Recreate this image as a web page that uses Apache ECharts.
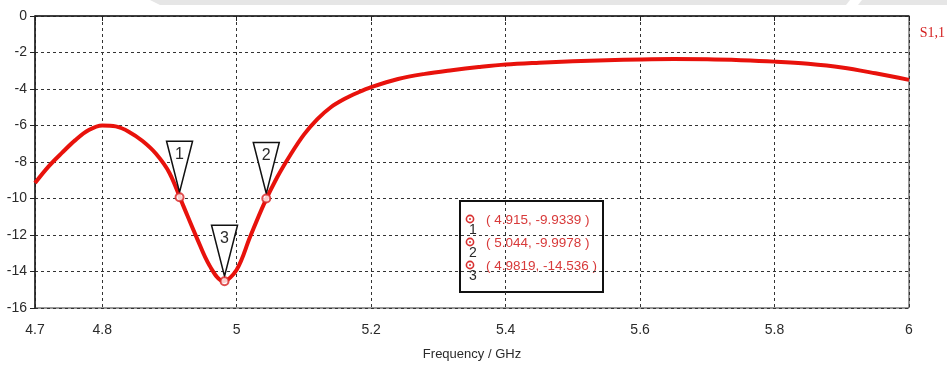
<!DOCTYPE html>
<html>
<head>
<meta charset="utf-8">
<script src="https://cdn.jsdelivr.net/npm/echarts@6/dist/echarts.min.js"></script>
<style>html,body{margin:0;padding:0;background:#fff;}#c{width:947px;height:366px;}</style>
</head>
<body>
<div id="c"></div>
<script>
const seriesName = 'S1,1';
const freq = [4.70,4.72,4.74,4.76,4.78,4.80,4.82,4.84,4.86,4.88,4.90,4.92,4.94,4.96,4.98,5.00,5.02,5.04,5.06,5.08,5.10,5.12,5.14,5.16,5.18,5.20,5.24,5.28,5.32,5.36,5.40,5.45,5.50,5.55,5.60,5.65,5.70,5.75,5.80,5.85,5.90,5.95,6.00];
const s11 = [-9.15,-8.25,-7.5,-6.8,-6.25,-6.0,-6.05,-6.35,-6.85,-7.55,-8.6,-10.35,-12.1,-13.7,-14.53,-13.9,-12.1,-10.35,-8.85,-7.6,-6.5,-5.65,-5.0,-4.55,-4.2,-3.9,-3.45,-3.17,-2.97,-2.8,-2.66,-2.56,-2.48,-2.42,-2.38,-2.36,-2.37,-2.42,-2.5,-2.62,-2.82,-3.14,-3.5];
const markerIds = ['1','2','3'];
const markerFreq = [4.915, 5.044, 4.9819];
const markerVal = [-9.9339, -9.9978, -14.536];
const xTickValues = [4.7, 4.8, 5.0, 5.2, 5.4, 5.6, 5.8, 6.0];
const yMin = -16, yMax = 0, yStep = 2;
const xName = 'Frequency / GHz';

const RED = '#e8120c';
const TXT = '#2a2a2a';
const FONT = 'Liberation Sans';

const lineData = freq.map((f, i) => [f, s11[i]]);
const markerData = markerFreq.map((f, i) => [f, markerVal[i]]);

const boxRows = [];
markerIds.forEach((id, i) => {
  const y = 18 + i * 23;
  boxRows.push({type:'circle', shape:{cx:10, cy:y, r:3.6}, style:{fill:'#fff', stroke:'#d83030', lineWidth:1.6}});
  boxRows.push({type:'circle', shape:{cx:10, cy:y, r:1}, style:{fill:'#d83030'}});
  boxRows.push({type:'text', x:13, y:y+11, style:{text:id, fill:TXT, font:'14px ' + FONT, align:'center', verticalAlign:'middle'}});
  boxRows.push({type:'text', x:26, y:y+1, style:{text:'( ' + markerFreq[i] + ', ' + markerVal[i] + ' )', fill:'#d83a3a', font:'13.5px ' + FONT, align:'left', verticalAlign:'middle'}});
});

const chart = echarts.init(document.getElementById('c'), null, {renderer:'canvas'});
chart.setOption({
  animation: false,
  backgroundColor: '#fff',
  grid: {left:35, right:38, top:16, bottom:58, show:true, borderColor:'#333', borderWidth:1, backgroundColor:'transparent'},
  legend: {data:[seriesName], right:2, top:26, padding:0, icon:'none', itemWidth:0, itemGap:0,
    textStyle:{color:'#d42020', fontFamily:'Liberation Serif', fontSize:14, padding:0}},
  xAxis: {
    type:'value', min:4.7, max:6.0,
    name:xName, nameLocation:'middle', nameGap:40,
    nameTextStyle:{color:TXT, fontFamily:FONT, fontSize:13},
    axisLine:{lineStyle:{color:'#222', width:1.5}},
    axisTick:{show:true, customValues:xTickValues, length:5, lineStyle:{color:'#222'}},
    axisLabel:{customValues:xTickValues, margin:15, color:TXT, fontFamily:FONT, fontSize:14},
    splitLine:{show:true, lineStyle:{type:[3,3], color:'#333', width:1}}
  },
  yAxis: {
    type:'value', min:yMin, max:yMax, interval:yStep,
    axisLine:{show:true, lineStyle:{color:'#222', width:1.5}},
    axisTick:{show:true, length:5, lineStyle:{color:'#222'}},
    axisLabel:{margin:8, color:TXT, fontFamily:FONT, fontSize:14},
    splitLine:{show:true, lineStyle:{type:[3,3], color:'#333', width:1}}
  },
  series: [
    {name:seriesName, type:'line', data:lineData, smooth:0.35, showSymbol:false,
     lineStyle:{color:RED, width:4}, itemStyle:{color:RED}, z:3},
    {type:'custom', data:markerData, z:5, clip:false,
     renderItem: function(params, api){
       const p = api.coord([api.value(0), api.value(1)]);
       const id = markerIds[params.dataIndex];
       return {type:'group', children:[
         {type:'polygon', shape:{points:[[p[0]-13,p[1]-56],[p[0]+13,p[1]-56],[p[0],p[1]-5]]},
          style:{fill:'#fff', stroke:'#111', lineWidth:1.5}},
         {type:'text', style:{text:id, x:p[0], y:p[1]-43, align:'center', verticalAlign:'middle',
          font:'16px ' + FONT, fill:TXT}}
       ]};
     }},
    {type:'scatter', data:markerData, symbol:'circle', symbolSize:8, z:6,
     itemStyle:{color:'#fff', borderColor:'#d82020', borderWidth:2}}
  ],
  graphic: [
    {type:'polygon', shape:{points:[[150,0],[850,0],[846,5],[160,5]]}, style:{fill:'#e6e6e6'}, z:-10},
    {type:'polygon', shape:{points:[[862,0],[947,0],[947,5],[858,5]]}, style:{fill:'#e6e6e6'}, z:-10},
    {type:'group', left:459, top:200, z:100, children:[
      {type:'rect', shape:{x:0, y:0, width:143, height:91}, style:{fill:'#fff', stroke:'#111', lineWidth:2}}
    ].concat(boxRows)}
  ]
});
</script>
</body>
</html>
